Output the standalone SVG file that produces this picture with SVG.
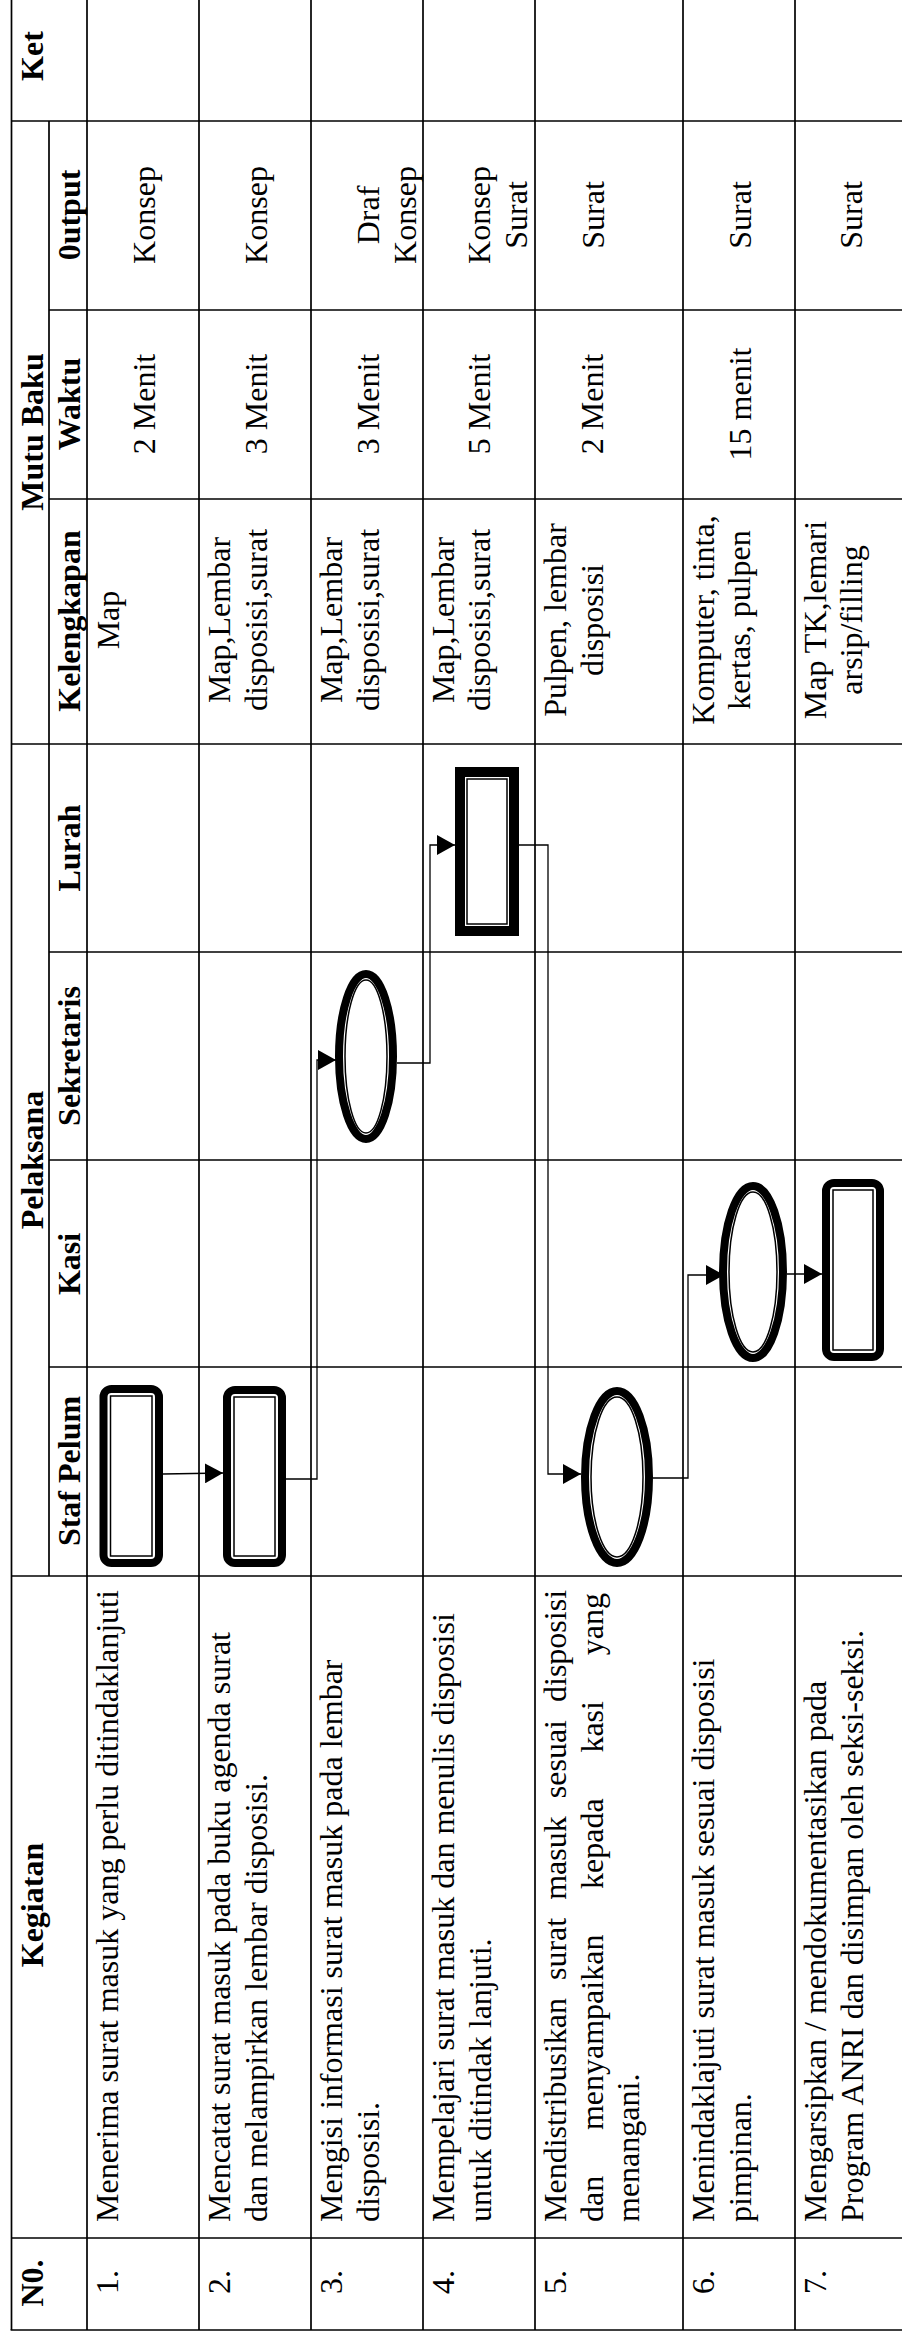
<svg xmlns="http://www.w3.org/2000/svg" width="902" height="2341" viewBox="0 0 902 2341">
<style>
.t{font-family:"Liberation Serif","Times New Roman",serif;font-size:32px;fill:#000}
.b{font-weight:bold}
.m{text-anchor:middle}
.grid line{stroke:#000;stroke-width:1.7}
.conn{fill:none;stroke:#000;stroke-width:1.3}
.outer{fill:#fff;stroke:#000;stroke-width:8}
.inner{fill:none;stroke:#000;stroke-width:1.5}
</style>
<defs>
<marker id="arr" markerUnits="userSpaceOnUse" viewBox="0 0 18 20" refX="18" refY="10" markerWidth="18" markerHeight="20" orient="auto">
<path d="M0,0 L18,10 L0,20 z" fill="#000"/>
</marker>
</defs>
<rect width="902" height="2341" fill="#fff"/>
<g id="table" class="grid">
<line x1="11.5" y1="0" x2="11.5" y2="2330"/>
<line x1="87" y1="0" x2="87" y2="2330"/>
<line x1="199" y1="0" x2="199" y2="2330"/>
<line x1="311" y1="0" x2="311" y2="2330"/>
<line x1="423" y1="0" x2="423" y2="2330"/>
<line x1="535" y1="0" x2="535" y2="2330"/>
<line x1="683" y1="0" x2="683" y2="2330"/>
<line x1="795" y1="0" x2="795" y2="2330"/>
<line x1="49" y1="121" x2="49" y2="1576"/>
<line x1="11.5" y1="121" x2="902" y2="121"/>
<line x1="11.5" y1="744" x2="902" y2="744"/>
<line x1="11.5" y1="1576" x2="902" y2="1576"/>
<line x1="11.5" y1="2238" x2="902" y2="2238"/>
<line x1="10.6" y1="2330" x2="902" y2="2330"/>
<line x1="49" y1="310" x2="902" y2="310"/>
<line x1="49" y1="499" x2="902" y2="499"/>
<line x1="49" y1="952" x2="902" y2="952"/>
<line x1="49" y1="1160" x2="902" y2="1160"/>
<line x1="49" y1="1367" x2="902" y2="1367"/>
</g>
<g id="texts" transform="rotate(-90)">
<text class="t b m" x="-56" y="43">Ket</text>
<text class="t b m" x="-432" y="43">Mutu Baku</text>
<text class="t b m" x="-1160" y="43">Pelaksana</text>
<text class="t b m" x="-1905" y="43">Kegiatan</text>
<text class="t b m" x="-2283" y="43">N0.</text>
<text class="t b m" x="-215" y="80">0utput</text>
<text class="t b m" x="-404" y="80">Waktu</text>
<text class="t b m" x="-621" y="80">Kelengkapan</text>
<text class="t b m" x="-848" y="80">Lurah</text>
<text class="t b m" x="-1056" y="80">Sekretaris</text>
<text class="t b m" x="-1264" y="80">Kasi</text>
<text class="t b m" x="-1471" y="80">Staf Pelum</text>
<g id="numbers">
<text class="t" x="-2294" y="118">1.</text>
<text class="t" x="-2294" y="230">2.</text>
<text class="t" x="-2294" y="342">3.</text>
<text class="t" x="-2294" y="454">4.</text>
<text class="t" x="-2294" y="566">5.</text>
<text class="t" x="-2294" y="714">6.</text>
<text class="t" x="-2294" y="826">7.</text>
</g>
<g id="kegiatan">
<text class="t" x="-2222" y="118">Menerima surat masuk yang perlu ditindaklanjuti</text>
<text class="t" x="-2222" y="230">Mencatat surat masuk pada buku agenda surat</text>
<text class="t" x="-2222" y="266.5">dan melampirkan lembar disposisi.</text>
<text class="t" x="-2222" y="342">Mengisi informasi surat masuk pada lembar</text>
<text class="t" x="-2222" y="378.5">disposisi.</text>
<text class="t" x="-2222" y="454">Mempelajari surat masuk dan menulis disposisi</text>
<text class="t" x="-2222" y="490.5">untuk ditindak lanjuti.</text>
<text class="t" x="-2222" y="566">Mendistribusikan</text>
<text class="t" x="-1980" y="566">surat</text>
<text class="t" x="-1899.8" y="566">masuk</text>
<text class="t" x="-1798.2" y="566">sesuai</text>
<text class="t" x="-1702" y="566">disposisi</text>
<text class="t" x="-2222" y="602.5">dan</text>
<text class="t" x="-2130.1" y="602.5">menyampaikan</text>
<text class="t" x="-1888.9" y="602.5">kepada</text>
<text class="t" x="-1752.6" y="602.5">kasi</text>
<text class="t" x="-1655.3" y="602.5">yang</text>
<text class="t" x="-2222" y="639">menangani.</text>
<text class="t" x="-2222" y="714">Menindaklajuti surat masuk sesuai disposisi</text>
<text class="t" x="-2222" y="750.5">pimpinan.</text>
<text class="t" x="-2222" y="826">Mengarsipkan / mendokumentasikan pada</text>
<text class="t" x="-2222" y="862.5">Program ANRI dan disimpan oleh seksi-seksi.</text>
</g>
<g id="output">
<text class="t m" x="-215" y="155">Konsep</text>
<text class="t m" x="-215" y="267">Konsep</text>
<text class="t m" x="-215" y="379">Draf</text>
<text class="t m" x="-215" y="416">Konsep</text>
<text class="t m" x="-215" y="490">Konsep</text>
<text class="t m" x="-215" y="527">Surat</text>
<text class="t m" x="-215" y="604">Surat</text>
<text class="t m" x="-215" y="751">Surat</text>
<text class="t m" x="-215" y="862">Surat</text>
</g>
<g id="waktu">
<text class="t m" x="-404" y="155">2 Menit</text>
<text class="t m" x="-404" y="267">3 Menit</text>
<text class="t m" x="-404" y="379">3 Menit</text>
<text class="t m" x="-404" y="490">5 Menit</text>
<text class="t m" x="-404" y="603">2 Menit</text>
<text class="t m" x="-404" y="751">15 menit</text>
</g>
<g id="kelengkapan">
<text class="t m" x="-620" y="119">Map</text>
<text class="t m" x="-620" y="230">Map,Lembar</text>
<text class="t m" x="-620" y="267">disposisi,surat</text>
<text class="t m" x="-620" y="342">Map,Lembar</text>
<text class="t m" x="-620" y="379">disposisi,surat</text>
<text class="t m" x="-620" y="454">Map,Lembar</text>
<text class="t m" x="-620" y="490">disposisi,surat</text>
<text class="t m" x="-620" y="566">Pulpen, lembar</text>
<text class="t m" x="-620" y="603">disposisi</text>
<text class="t m" x="-620" y="714">Komputer, tinta,</text>
<text class="t m" x="-620" y="750">kertas, pulpen</text>
<text class="t m" x="-620" y="826">Map TK,lemari</text>
<text class="t m" x="-620" y="862">arsip/filling</text>
</g>
</g>
<g id="node-staf-1">
<rect class="outer" x="103.5" y="1389" width="55.5" height="174" rx="8"/>
<rect class="inner" x="110.5" y="1396" width="41.5" height="160"/>
</g>
<g id="node-staf-2">
<rect class="outer" x="227" y="1390" width="55" height="173" rx="8"/>
<rect class="inner" x="234" y="1397" width="41" height="159"/>
</g>
<g id="node-sekretaris-3">
<ellipse class="outer" cx="366" cy="1056.5" rx="27" ry="82.5"/>
<ellipse class="inner" cx="366" cy="1056.5" rx="21" ry="76.5"/>
</g>
<g id="node-lurah-4">
<rect fill="#fff" stroke="#000" stroke-width="10" x="460" y="772" width="54" height="159"/>
<rect class="inner" x="467" y="779" width="40" height="145"/>
</g>
<g id="node-staf-5">
<ellipse class="outer" cx="617" cy="1477" rx="32" ry="86"/>
<ellipse class="inner" cx="617" cy="1477" rx="26" ry="80"/>
</g>
<g id="node-kasi-6">
<ellipse class="outer" cx="753" cy="1272" rx="30" ry="86"/>
<ellipse class="inner" cx="753" cy="1272" rx="24" ry="80"/>
</g>
<g id="node-kasi-7">
<rect class="outer" x="826" y="1183" width="54" height="174" rx="8"/>
<rect class="inner" x="833" y="1190" width="40" height="160"/>
</g>
<g id="connectors" class="conn">
<polyline points="163,1474 223,1473" marker-end="url(#arr)"/>
<polyline points="286,1479 317,1479 317,1060 336,1060" marker-end="url(#arr)"/>
<polyline points="397,1063 430,1063 430,845 455,845" marker-end="url(#arr)"/>
<polyline points="519,845 548,845 548,1474 581,1474" marker-end="url(#arr)"/>
<polyline points="653,1478 688,1478 688,1275 724,1275" marker-end="url(#arr)"/>
<polyline points="787,1274 822,1274" marker-end="url(#arr)"/>
</g>
</svg>
